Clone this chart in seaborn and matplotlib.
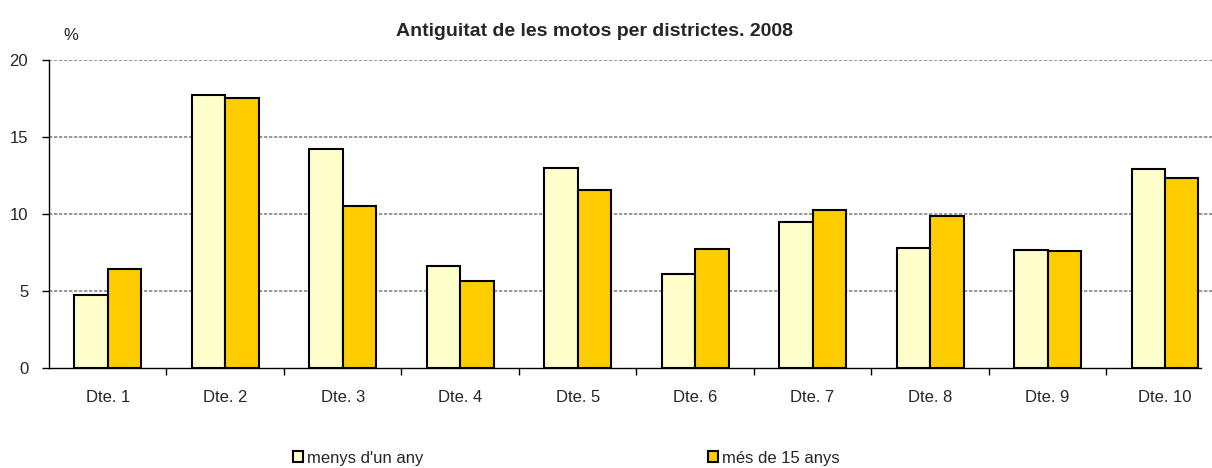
import matplotlib
matplotlib.use("Agg")
import matplotlib.pyplot as plt
import seaborn as sns
import pandas as pd
from matplotlib.patches import Patch

# data
districts = ["Dte. 1", "Dte. 2", "Dte. 3", "Dte. 4", "Dte. 5",
             "Dte. 6", "Dte. 7", "Dte. 8", "Dte. 9", "Dte. 10"]
under_one_year = [4.7, 17.7, 14.2, 6.6, 12.95, 6.05, 9.45, 7.75, 7.65, 12.9]
over_15_years = [6.43, 17.55, 10.48, 5.6, 11.56, 7.7, 10.27, 9.88, 7.55, 12.35]
series_names = ["menys d'un any", "més de 15 anys"]
colors = ["#FFFFCC", "#FFCC00"]

df = pd.DataFrame({
    "district": districts * 2,
    "value": under_one_year + over_15_years,
    "series": [series_names[0]] * len(districts) + [series_names[1]] * len(districts),
})

sns.set_style("white")
plt.rcParams["font.family"] = ["Liberation Sans", "DejaVu Sans"]

fig = plt.figure(figsize=(12.12, 4.68), dpi=100)
ax = fig.add_axes([49 / 1212, 100.5 / 468, 1163 / 1212, 307.5 / 468])

sns.barplot(data=df, x="district", y="value", hue="series", order=districts,
            hue_order=series_names, palette=colors, width=0.57, gap=0,
            edgecolor="black", linewidth=1.5, saturation=1, ax=ax, legend=False)

ax.set_xlim(-0.5, 9.4)
ax.set_ylim(0, 20)
ax.set_yticks([0, 5, 10, 15, 20])
ax.set_xlabel("")
ax.set_ylabel("")

# dotted grey gridlines
for y in [5, 10, 15, 20]:
    ax.axhline(y, color="#888888", linestyle=(0, (2, 1)), linewidth=1.2, zorder=0)

for s in ["top", "right"]:
    ax.spines[s].set_visible(False)
ax.spines["left"].set_color("black")
ax.spines["bottom"].set_color("black")
ax.spines["left"].set_linewidth(1)
ax.spines["bottom"].set_linewidth(1)
ax.spines["bottom"].set_bounds(-0.5, 9.31)

ax.tick_params(axis="y", direction="out", length=5, width=1, color="black",
               labelsize=12, pad=10, left=True)
ax.tick_params(axis="x", which="major", length=0, labelsize=12, pad=16)
ax.set_xticks([i + 0.5 for i in range(len(districts) - 1)], minor=True)
ax.tick_params(axis="x", which="minor", direction="out", length=5, width=1,
               color="black", bottom=True)

fig.text(595 / 1212, 1 - 31 / 468, "Antiguitat de les motos per districtes. 2008",
         ha="center", va="center", fontsize=14, fontweight="bold")
fig.text(71 / 1212, 1 - 35 / 468, "%", ha="center", va="center", fontsize=12)

handles = [Patch(facecolor=c, edgecolor="black", linewidth=1.5) for c in colors]
fig.legend([handles[0]], [series_names[0]], loc="center left",
           bbox_to_anchor=(285 / 1212, 1 - 458 / 468), frameon=False,
           fontsize=12, handlelength=0.6, handleheight=0.6,
           handletextpad=0.2, borderpad=0)
fig.legend([handles[1]], [series_names[1]], loc="center left",
           bbox_to_anchor=(700 / 1212, 1 - 458 / 468), frameon=False,
           fontsize=12, handlelength=0.6, handleheight=0.6,
           handletextpad=0.2, borderpad=0)

fig.savefig("out.png", dpi=100)
